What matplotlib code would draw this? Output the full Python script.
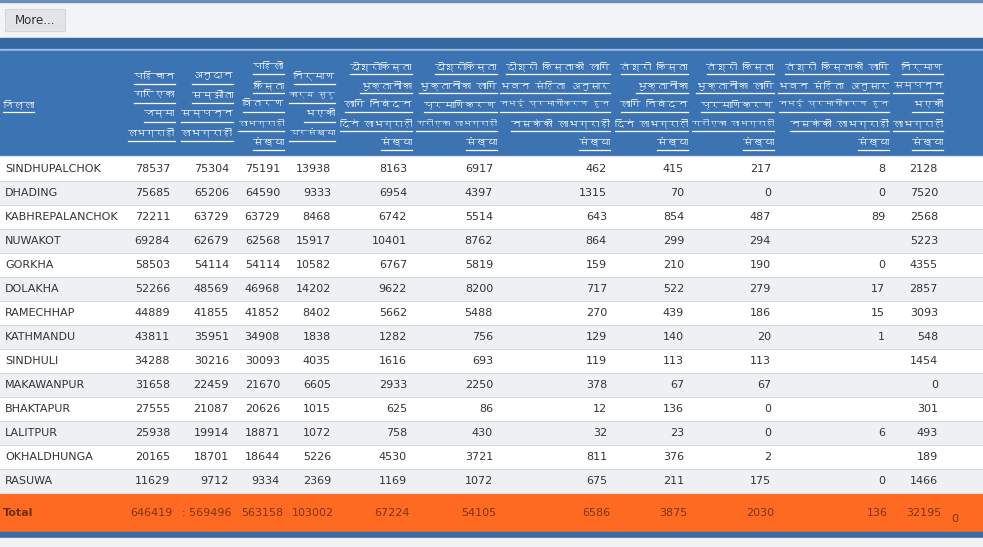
import matplotlib
matplotlib.use("Agg")
import matplotlib.pyplot as plt
from matplotlib import font_manager
from matplotlib.ft2font import FT2Font
from matplotlib.patches import Rectangle

# ---------------- data ----------------
districts = ["SINDHUPALCHOK", "DHADING", "KABHREPALANCHOK", "NUWAKOT", "GORKHA",
             "DOLAKHA", "RAMECHHAP", "KATHMANDU", "SINDHULI", "MAKAWANPUR",
             "BHAKTAPUR", "LALITPUR", "OKHALDHUNGA", "RASUWA"]

identified = [78537, 75685, 72211, 69284, 58503, 52266, 44889, 43811, 34288, 31658, 27555, 25938, 20165, 11629]
agreement = [75304, 65206, 63729, 62679, 54114, 48569, 41855, 35951, 30216, 22459, 21087, 19914, 18701, 9712]
first_tranche = [75191, 64590, 63729, 62568, 54114, 46968, 41852, 34908, 30093, 21670, 20626, 18871, 18644, 9334]
construction_started = [13938, 9333, 8468, 15917, 10582, 14202, 8402, 1838, 4035, 6605, 1015, 1072, 5226, 2369]
second_applied = [8163, 6954, 6742, 10401, 6767, 9622, 5662, 1282, 1616, 2933, 625, 758, 4530, 1169]
second_certified = [6917, 4397, 5514, 8762, 5819, 8200, 5488, 756, 693, 2250, 86, 430, 3721, 1072]
second_not_certified = [462, 1315, 643, 864, 159, 717, 270, 129, 119, 378, 12, 32, 811, 675]
third_applied = [415, 70, 854, 299, 210, 522, 439, 140, 113, 67, 136, 23, 376, 211]
third_certified = [217, 0, 487, 294, 190, 279, 186, 20, 113, 67, 0, 0, 2, 175]
third_not_certified = [8, 0, 89, None, 0, 17, 15, 1, None, None, None, 6, None, 0]
completed = [2128, 7520, 2568, 5223, 4355, 2857, 3093, 548, 1454, 0, 301, 493, 189, 1466]

totals = ["646419", ": 569496", "563158", "103002", "67224", "54105",
          "6586", "3875", "2030", "136", "32195"]
total_label = "Total"
total_extra = "0"

headers = [
    ["जिल्ला"],
    ["पहिचान", "गरिएका", "जम्मा", "लाभग्राही"],
    ["अनुदान", "सम्झौता", "सम्पन्न", "लाभग्राही"],
    ["पहिलो", "किस्ता", "वितरण", "लाभग्राही", "संख्या"],
    ["निर्माण", "कार्य सुरु", "भएको", "घरसंख्या"],
    ["दोश्रोकिस्ता", "भुक्तानीका", "लागि निबेदन", "दिने लाभग्राही", "संख्या"],
    ["दोश्रोकिस्ता", "भुक्तानीका लागि", "प्रमाणिकरण", "गरीएका लाभग्राही", "संख्या"],
    ["दोश्रो किस्ताको लागि", "भवन संहिता अनुसार", "नभई प्रमाणीकरण हुन", "नसकेको लाभग्राही", "संख्या"],
    ["तेश्रो किस्ता", "भुक्तानीका", "लागि निबेदन", "दिने लाभग्राही", "संख्या"],
    ["तेश्रो किस्ता", "भुक्तानीका लागि", "प्रमाणिकरण", "गरीएका लाभग्राही", "संख्या"],
    ["तेश्रो किस्ताको लागि", "भवन संहिता अनुसार", "नभई प्रमाणीकरण हुन", "नसकेको लाभग्राही", "संख्या"],
    ["निर्माण", "सम्पन्न", "भएको", "लाभग्राही", "संख्या"],
]

columns = [identified, agreement, first_tranche, construction_started, second_applied,
           second_certified, second_not_certified, third_applied, third_certified,
           third_not_certified, completed]

# ---------------- fonts ----------------
def find_font(ch):
    for f in font_manager.fontManager.ttflist:
        try:
            if ord(ch) in FT2Font(f.fname).get_charmap():
                return f.name
        except Exception:
            pass
    return None

deva = find_font("क")
head_family = [deva, "DejaVu Sans"] if deva else ["DejaVu Sans"]

# ---------------- layout (pixels) ----------------
W, H = 983, 547
num_right = [170, 229, 280, 331, 407, 493, 607, 684, 771, 885, 938]
head_right = [175, 233, 284, 335, 412, 497, 610, 688, 774, 889, 943]
head_left_limit = [128, 180, 238, 289, 340, 417, 500, 615, 692, 778, 893]
row_top0 = 157
row_h = 24

fig = plt.figure(figsize=(W / 100, H / 100), dpi=100)
ax = fig.add_axes([0, 0, 1, 1])
ax.set_xlim(0, W)
ax.set_ylim(H, 0)
ax.axis("off")

# backgrounds
ax.add_patch(Rectangle((0, 0), W, 38, color="#f3f4f7", zorder=0))
ax.add_patch(Rectangle((0, 0), W, 1.5, color="#6b8fb8", zorder=1))
ax.add_patch(Rectangle((5, 9), 60, 22, facecolor="#e2e4e8", edgecolor="#d5d7db", lw=0.8, zorder=1))
ax.text(35, 20.5, "More...", ha="center", va="center", fontsize=8.5, color="#333333",
        family="DejaVu Sans", zorder=2)
ax.add_patch(Rectangle((0, 38), W, 11, color="#3567a0", zorder=1))
ax.add_patch(Rectangle((0, 49), W, 1.5, color="#9fbde0", zorder=1))
ax.add_patch(Rectangle((0, 50.5), W, 105, color="#3b73b3", zorder=1))
ax.add_patch(Rectangle((0, 155.5), W, 1.5, color="#c9d7e8", zorder=1))

# rows
for i, name in enumerate(districts):
    top = row_top0 + i * row_h
    bg = "#ffffff" if i % 2 == 0 else "#eef0f3"
    ax.add_patch(Rectangle((0, top), W, row_h, color=bg, zorder=1))
    ax.plot([0, W], [top + row_h, top + row_h], color="#d9dde3", lw=0.8, zorder=2)
    cy = top + row_h / 2 + 0.5
    ax.text(5, cy, name, ha="left", va="center", fontsize=8, color="#333333",
            family="DejaVu Sans", zorder=3)
    for c, col in enumerate(columns):
        v = col[i]
        if v is None:
            continue
        ax.text(num_right[c], cy, str(v), ha="right", va="center", fontsize=8,
                color="#333333", family="DejaVu Sans", zorder=3)

# total row
ttop = row_top0 + len(districts) * row_h + 1
ax.add_patch(Rectangle((0, ttop), W, 37, color="#fe6a22", zorder=1))
tcy = ttop + 18.5
ax.text(3, tcy, total_label, ha="left", va="center", fontsize=8, fontweight="bold",
        color="#6e2f12", family="DejaVu Sans", zorder=3)
for c, t in enumerate(totals):
    ax.text(num_right[c] + 3, tcy, t, ha="right", va="center", fontsize=8,
            color="#7a3616", family="DejaVu Sans", zorder=3)
ax.text(955, tcy + 7, total_extra, ha="center", va="center", fontsize=8,
        color="#7a3616", family="DejaVu Sans", zorder=3)
ax.add_patch(Rectangle((0, ttop + 38), W, 6, color="#3a6ca5", zorder=1))
ax.add_patch(Rectangle((0, ttop + 44), W, H - ttop - 44, color="#f0f2f5", zorder=1))

# headers
line_gap = 19
head_texts = []
for c, lines in enumerate(headers):
    n = len(lines)
    y0 = 104 - (n - 1) * line_gap / 2
    for k, s in enumerate(lines):
        y = y0 + k * line_gap
        if c == 0:
            t = ax.text(3, y, s, ha="left", va="center", fontsize=7.5, fontweight="bold",
                        color="white", family=head_family, zorder=3)
            limit = None
        else:
            t = ax.text(head_right[c - 1], y, s, ha="right", va="center", fontsize=7.5,
                        fontweight="bold", color="white", family=head_family, zorder=3)
            limit = head_right[c - 1] - head_left_limit[c - 1]
        head_texts.append((t, y, limit))

fig.canvas.draw()
renderer = fig.canvas.get_renderer()
for t, y, limit in head_texts:
    if limit is None:
        continue
    bb = t.get_window_extent(renderer)
    if bb.width > limit:
        t.set_fontsize(t.get_fontsize() * limit / bb.width)

fig.canvas.draw()
inv = ax.transData.inverted()
for t, y, limit in head_texts:
    bb = t.get_window_extent(renderer)
    (x0, _), (x1, _) = inv.transform([(bb.x0, bb.y0), (bb.x1, bb.y1)])
    ax.plot([x0, x1], [y + 8, y + 8], color="white", lw=0.9, zorder=3)

fig.savefig("out.png", dpi=100)
